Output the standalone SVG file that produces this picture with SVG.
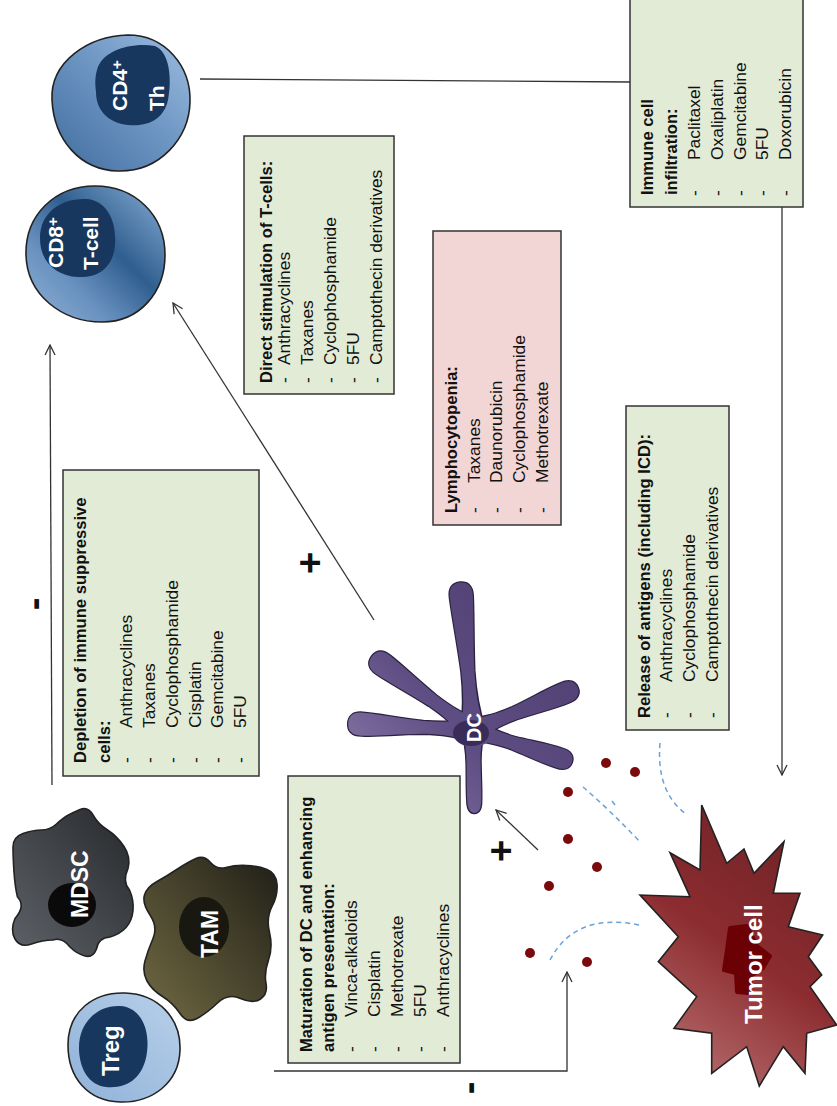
<svg xmlns="http://www.w3.org/2000/svg" width="837" height="1106" viewBox="0 0 837 1106">
<style>
.box{stroke:#333;stroke-width:1.5}
.g{fill:#e2ebd6}
.p{fill:#f2d6d5}
text{font-family:"Liberation Sans",Arial,sans-serif}
.t{font-weight:bold;font-size:16.6px;fill:#111}
.i{font-size:17.4px;fill:#111}
.lbl{font-weight:bold;fill:#fff}
.sign{font-weight:bold;font-size:38px;fill:#111;text-anchor:middle}
.con{fill:none;stroke:#333;stroke-width:1.3}
.ag{fill:#7b0a0c}
.dash{fill:none;stroke:#6aa2d8;stroke-width:1.5;stroke-dasharray:5 4}
.cell{stroke:#222;stroke-width:1.6}
</style>
<defs>
<marker id="arr" viewBox="0 0 12 12" refX="11" refY="6" markerWidth="12" markerHeight="12" markerUnits="userSpaceOnUse" orient="auto">
<path d="M1,1 L11,6 L1,11" fill="none" stroke="#333" stroke-width="1.3"/>
</marker>
<linearGradient id="gCD4" x1="0" y1="1" x2="1" y2="0">
<stop offset="0" stop-color="#3f6c9e"/><stop offset="0.55" stop-color="#6f97c4"/><stop offset="1" stop-color="#9dbde0"/>
</linearGradient>
<linearGradient id="gCD8" x1="0" y1="1" x2="1" y2="0">
<stop offset="0" stop-color="#8fb1d6"/><stop offset="0.3" stop-color="#6a92c0"/><stop offset="0.58" stop-color="#2f5e8f"/><stop offset="1" stop-color="#8ab0d6"/>
</linearGradient>
<linearGradient id="gTreg" x1="0" y1="1" x2="1" y2="0">
<stop offset="0" stop-color="#8fb1d8"/><stop offset="1" stop-color="#b8d0ea"/>
</linearGradient>
<linearGradient id="gMDSC" x1="0" y1="1" x2="1" y2="0">
<stop offset="0" stop-color="#5e6268"/><stop offset="1" stop-color="#26282b"/>
</linearGradient>
<linearGradient id="gTAM" x1="0" y1="1" x2="1" y2="0">
<stop offset="0" stop-color="#716a43"/><stop offset="1" stop-color="#201f17"/>
</linearGradient>
<linearGradient id="gTumor" gradientUnits="userSpaceOnUse" x1="660" y1="1080" x2="830" y2="830">
<stop offset="0" stop-color="#bb7474"/><stop offset="0.5" stop-color="#8c2c30"/><stop offset="1" stop-color="#6c2226"/>
</linearGradient>
<linearGradient id="gDC" gradientUnits="userSpaceOnUse" x1="350" y1="800" x2="560" y2="620">
<stop offset="0" stop-color="#8c7bab"/><stop offset="0.45" stop-color="#5e4e83"/><stop offset="1" stop-color="#4f3f72"/>
</linearGradient>
<!-- dendritic cell arms, each drawn along +x and rotated into place -->
<path id="dcA1" transform="translate(473,730) rotate(-95)" d="M0,-12 C22,-7 37,-6 59,-6.5 C89,-8 118,-11 134,-11.5 C144,-12 148,-7 148,0 C148,7 144,12 134,11.5 C118,11 89,8 59,6.5 C37,6 22,7 0,12 Z"/>
<path id="dcA2" transform="translate(473,730) rotate(-144)" d="M0,-12 C19,-7 31,-6 50,-6.5 C75,-8 95,-11 111,-11.5 C121,-12 125,-7 125,0 C125,7 121,12 111,11.5 C95,11 75,8 50,6.5 C31,6 19,7 0,12 Z"/>
<path id="dcA3" transform="translate(473,730) rotate(-177)" d="M0,-12 C19,-7 31,-6 50,-6.5 C75,-8 95,-11 111,-11.5 C121,-12 125,-7 125,0 C125,7 121,12 111,11.5 C95,11 75,8 50,6.5 C31,6 19,7 0,12 Z"/>
<path id="dcA4" transform="translate(473,730) rotate(-22)" d="M0,-12 C17,-7 28,-6 45,-6.5 C68,-8 83,-10.5 99,-10.5 C109,-11 113,-6 113,0 C113,6 109,11 99,10.5 C83,10.5 68,8 45,6.5 C28,6 17,7 0,12 Z"/>
<path id="dcA5" transform="translate(473,730) rotate(18)" d="M0,-12 C16,-7 26,-6 42,-6.5 C62,-8 74,-10 90,-10 C100,-10.5 104,-6 104,0 C104,6 100,10.5 90,10 C74,10 62,8 42,6.5 C26,6 16,7 0,12 Z"/>
<path id="dcA6" transform="translate(473,730) rotate(89)" d="M0,-12 C12,-8 21,-7 33,-7 C50,-7 60,-7.5 70,-7 C79,-7 83,-4 83,0 C83,4 79,7 70,7 C60,7.5 50,7 33,7 C21,7 12,8 0,12 Z"/>
<ellipse id="dcHub" cx="473" cy="731" rx="20" ry="16"/>
<clipPath id="dcClip">
<use href="#dcA1"/><use href="#dcA2"/><use href="#dcA3"/><use href="#dcA4"/><use href="#dcA5"/><use href="#dcA6"/><use href="#dcHub"/>
</clipPath>
</defs>

<rect width="837" height="1106" fill="#fff"/>

<!-- T cells -->
<g id="cd4">
<path class="cell" fill="url(#gCD4)" d="M52,100 C50,62 88,36 128,35 C165,35 191,66 190,102 C189,138 160,172 118,171 C80,170 54,140 52,100 Z"/>
<path fill="#17375e" d="M97,70 C102,50 132,42 155,46 C170,52 172,80 168,100 C164,118 150,127 128,125 C108,123 96,110 96,92 C95,83 95,77 97,70 Z"/>
<text class="lbl" font-size="21" transform="translate(127,111) rotate(-90)">CD4<tspan font-size="15" dy="-5">+</tspan></text>
<text class="lbl" font-size="21" transform="translate(164,111) rotate(-90)">Th</text>
</g>
<g id="cd8">
<path class="cell" fill="url(#gCD8)" d="M26,255 C25,215 55,186 95,186 C135,186 165,215 165,255 C165,292 140,322 102,322 C62,322 27,295 26,255 Z"/>
<path fill="#17375e" d="M40,238 C40,212 62,198 86,199 C106,200 117,220 115,245 C113,268 98,278 78,277 C56,276 40,262 40,238 Z"/>
<text class="lbl" font-size="21" transform="translate(63,268) rotate(-90)">CD8<tspan font-size="15" dy="-5">+</tspan></text>
<text class="lbl" font-size="21" transform="translate(98,270) rotate(-90)">T-cell</text>
</g>

<!-- suppressive cells -->
<g id="mdsc">
<path class="cell" fill="url(#gMDSC)" d="M80,809.5 Q88,806 93,815 Q98,824 107.5,830 Q117,836 124,846.5 Q131,857 128,868.5 Q122,882 129.5,890 Q134,900 133,910.5 Q132,921 126,927.5 Q120,934 110,937 Q98,938 96.5,949 Q93,958 85,956 Q77,954 70,947 Q62,937 53,940 Q43,940 31.5,944 Q20,948 15,939 Q10,930 15,918.5 Q26,906 17.5,897 Q15,887 14,872 Q13,857 13,847 Q13,837 23,833.5 Q33,830 41.5,830 Q50,830 56.5,824 Q63,818 67.5,815.5 Q72,813 80,809.5 Z"/>
<ellipse cx="72" cy="905" rx="24" ry="22" fill="#0a0a0a"/>
<text class="lbl" font-size="23" transform="translate(88,918) rotate(-90)">MDSC</text>
</g>
<g id="tam">
<path class="cell" fill="url(#gTAM)" d="M157,881.5 Q167,876 177.5,869 Q188,862 196,858.5 Q204,855 210.5,862.5 Q217,870 226,867.5 Q235,865 246.5,865.5 Q258,866 267,869.5 Q276,873 277,884 Q278,895 272,906.5 Q266,918 269.5,932.5 Q273,947 268.5,960 Q264,973 266,983.5 Q268,994 260.5,999 Q253,1004 240.5,998.5 Q228,993 217.5,1003 Q207,1013 197,1018.5 Q187,1024 180,1013.5 Q173,1003 162.5,996.5 Q152,990 147,981 Q142,972 145,961 Q148,950 153,938.5 Q158,927 150,915 Q142,903 144.5,895 Q147,887 157,881.5 Z"/>
<ellipse cx="204" cy="927" rx="25" ry="30" fill="#181810"/>
<text class="lbl" font-size="23" transform="translate(218,958) rotate(-90)">TAM</text>
</g>
<g id="treg">
<path class="cell" fill="url(#gTreg)" d="M68,1045 C68,1010 95,992 125,993 C158,994 181,1018 180,1050 C179,1083 152,1103 120,1102 C88,1101 68,1078 68,1045 Z"/>
<path fill="#17375e" d="M79,1050 C78,1022 98,1005 120,1006 C140,1007 150,1028 147,1052 C144,1077 128,1089 106,1087 C89,1085 80,1070 79,1050 Z"/>
<text class="lbl" font-size="24" transform="translate(119,1076) rotate(-90)">Treg</text>
</g>

<!-- dendritic cell -->
<g id="dc">
<g fill="#5b4b80" stroke="#2b2240" stroke-width="2.4">
<use href="#dcA1"/><use href="#dcA2"/><use href="#dcA3"/><use href="#dcA4"/><use href="#dcA5"/><use href="#dcA6"/>
</g>
<rect x="330" y="570" width="260" height="260" fill="url(#gDC)" clip-path="url(#dcClip)"/>
<ellipse cx="471" cy="733" rx="18" ry="13" fill="#3a2c58"/>
<text class="lbl" font-size="20" transform="translate(481,742) rotate(-90)">DC</text>
</g>

<!-- tumor cell -->
<g id="tumor">
<path class="cell" fill="url(#gTumor)" d="M701.7,805 L726.7,863.3 L744,849 L754,873.3 L784,841.7 L773.3,893.3 L800,893.3 L788.3,926.7 L822.7,935 L808.3,956.7 L821.7,975 L810,986.7 L836.7,1025 L806.7,1033.3 L805,1073.3 L783.3,1046.7 L759.3,1086 L746.7,1046.7 L711.7,1073.3 L711.7,1033.3 L674,1028.3 L696.7,996.7 L658.3,961.7 L678.3,936.7 L640,895 L690,896.7 L670,852.7 L700,870 Z"/>
<path fill="#6b0005" stroke="#6b0005" stroke-width="4" stroke-linejoin="round" d="M730,928 L747,926 L757,946 L770,956 L763,968 L752,975 L748,993 L737,992 L736,973 L724,970 L727,950 Z"/>
<text class="lbl" font-size="24" transform="translate(762,1024) rotate(-90)">Tumor cell</text>
</g>

<!-- released antigens -->
<g id="antigens">
<circle class="ag" cx="606" cy="763" r="5"/>
<circle class="ag" cx="635" cy="772" r="5"/>
<circle class="ag" cx="568" cy="792" r="5"/>
<circle class="ag" cx="568" cy="839" r="5"/>
<circle class="ag" cx="597" cy="867" r="5"/>
<circle class="ag" cx="549" cy="886" r="5"/>
<circle class="ag" cx="530" cy="953" r="5"/>
<circle class="ag" cx="587" cy="962" r="5"/>
<path class="dash" d="M660,743 Q656,792 686,814"/>
<path class="dash" d="M583,787 Q612,812 641,843"/>
<path class="dash" d="M612,801 L615,805" stroke-dasharray="none"/>
<path class="dash" d="M550,960 Q575,912 639,925"/>
</g>

<!-- connectors -->
<g id="connectors">
<path class="con" d="M200,79 L630,82"/>
<path class="con" d="M782,207 L782,775" marker-end="url(#arr)"/>
<path class="con" d="M52,785 L50,345" marker-end="url(#arr)"/>
<path class="con" d="M374,620 L173,303" marker-end="url(#arr)"/>
<path class="con" d="M538,850 L496,810" marker-end="url(#arr)"/>
<path class="con" d="M274,1071 L567,1071 L567,972" marker-end="url(#arr)"/>
<text class="sign" transform="translate(47,604) rotate(-90)">-</text>
<text class="sign" font-size="34" transform="translate(323,563) rotate(-90)">+</text>
<text class="sign" font-size="34" transform="translate(514,851) rotate(-90)">+</text>
<text class="sign" transform="translate(482,1088) rotate(-90)">-</text>
</g>

<!-- drug boxes -->
<g id="box-infiltration">
<rect class="box g" x="630" y="-2" width="173" height="209"/>
<g transform="translate(630,207) rotate(-90)">
<text class="t" x="12" y="23">Immune cell</text>
<text class="t" x="12" y="47">infiltration:</text>
<text class="i" y="70"><tspan x="11">-</tspan><tspan x="47">Paclitaxel</tspan></text>
<text class="i" y="93"><tspan x="11">-</tspan><tspan x="47">Oxaliplatin</tspan></text>
<text class="i" y="116"><tspan x="11">-</tspan><tspan x="47">Gemcitabine</tspan></text>
<text class="i" y="138"><tspan x="11">-</tspan><tspan x="47">5FU</tspan></text>
<text class="i" y="161"><tspan x="11">-</tspan><tspan x="47">Doxorubicin</tspan></text>
</g>
</g>

<g id="box-direct">
<rect class="box g" x="244" y="136" width="150" height="258"/>
<g transform="translate(244,394) rotate(-90)">
<text class="t" x="11" y="28">Direct stimulation of T-cells:</text>
<text class="i" y="46"><tspan x="11">-</tspan><tspan x="29">Anthracyclines</tspan></text>
<text class="i" y="69"><tspan x="11">-</tspan><tspan x="29">Taxanes</tspan></text>
<text class="i" y="92"><tspan x="11">-</tspan><tspan x="29">Cyclophosphamide</tspan></text>
<text class="i" y="115"><tspan x="11">-</tspan><tspan x="29">5FU</tspan></text>
<text class="i" y="138"><tspan x="11">-</tspan><tspan x="29">Camptothecin derivatives</tspan></text>
</g>
</g>

<g id="box-lympho">
<rect class="box p" x="433" y="231" width="128" height="294"/>
<g transform="translate(433,525) rotate(-90)">
<text class="t" x="12" y="24">Lymphocytopenia:</text>
<text class="i" y="47"><tspan x="12">-</tspan><tspan x="42">Taxanes</tspan></text>
<text class="i" y="69"><tspan x="12">-</tspan><tspan x="42">Daunorubicin</tspan></text>
<text class="i" y="92"><tspan x="12">-</tspan><tspan x="42">Cyclophosphamide</tspan></text>
<text class="i" y="115"><tspan x="12">-</tspan><tspan x="42">Methotrexate</tspan></text>
</g>
</g>

<g id="box-depletion">
<rect class="box g" x="63" y="470" width="196" height="306"/>
<g transform="translate(63,776) rotate(-90)">
<text class="t" x="13" y="23">Depletion of immune suppressive</text>
<text class="t" x="13" y="47">cells:</text>
<text class="i" y="69"><tspan x="13">-</tspan><tspan x="48">Anthracyclines</tspan></text>
<text class="i" y="92"><tspan x="13">-</tspan><tspan x="48">Taxanes</tspan></text>
<text class="i" y="115"><tspan x="13">-</tspan><tspan x="48">Cyclophosphamide</tspan></text>
<text class="i" y="138"><tspan x="13">-</tspan><tspan x="48">Cisplatin</tspan></text>
<text class="i" y="160"><tspan x="13">-</tspan><tspan x="48">Gemcitabine</tspan></text>
<text class="i" y="183"><tspan x="13">-</tspan><tspan x="48">5FU</tspan></text>
</g>
</g>

<g id="box-maturation">
<rect class="box g" x="288" y="776" width="172" height="287"/>
<g transform="translate(288,1063) rotate(-90)">
<text class="t" x="11" y="24">Maturation of DC and enhancing</text>
<text class="t" x="11" y="46">antigen presentation:</text>
<text class="i" y="69"><tspan x="11">-</tspan><tspan x="46">Vinca-alkaloids</tspan></text>
<text class="i" y="92"><tspan x="11">-</tspan><tspan x="46">Cisplatin</tspan></text>
<text class="i" y="115"><tspan x="11">-</tspan><tspan x="46">Methotrexate</tspan></text>
<text class="i" y="138"><tspan x="11">-</tspan><tspan x="46">5FU</tspan></text>
<text class="i" y="161"><tspan x="11">-</tspan><tspan x="46">Anthracyclines</tspan></text>
</g>
</g>

<g id="box-release">
<rect class="box g" x="626" y="406" width="103" height="324"/>
<g transform="translate(626,730) rotate(-90)">
<text class="t" x="12" y="24">Release of antigens (including ICD):</text>
<text class="i" y="46"><tspan x="12">-</tspan><tspan x="48">Anthracyclines</tspan></text>
<text class="i" y="69"><tspan x="12">-</tspan><tspan x="48">Cyclophosphamide</tspan></text>
<text class="i" y="92"><tspan x="12">-</tspan><tspan x="48">Camptothecin derivatives</tspan></text>
</g>
</g>
</svg>
